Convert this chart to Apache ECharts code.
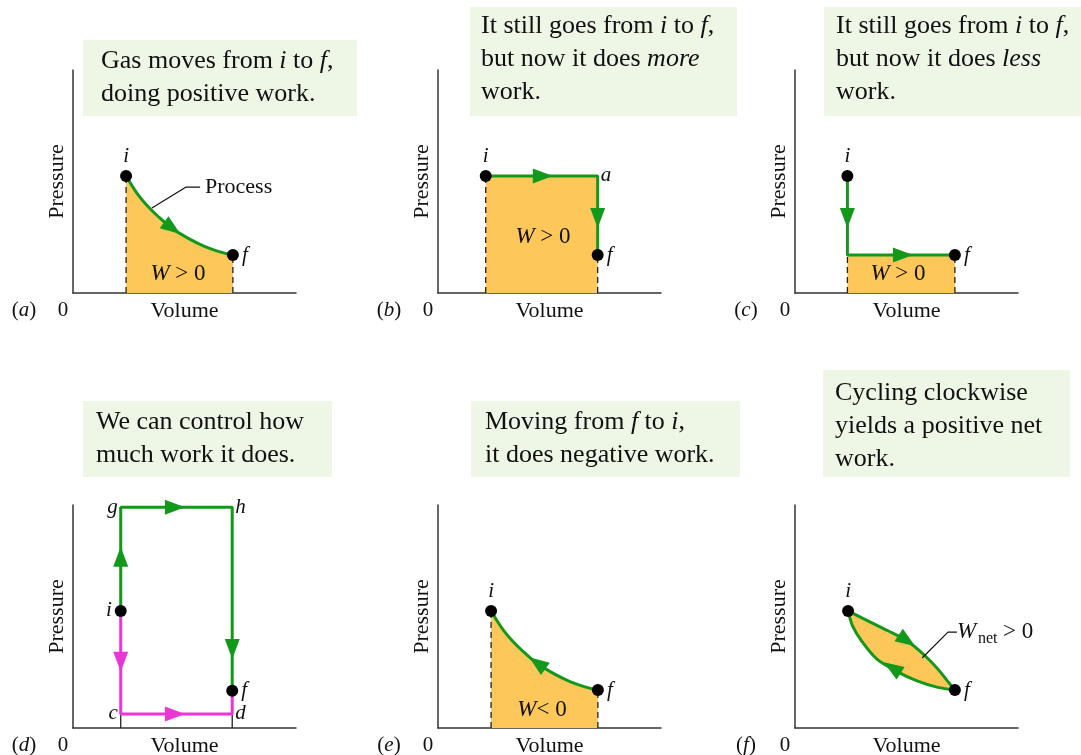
<!DOCTYPE html>
<html>
<head>
<meta charset="utf-8">
<script src="https://cdn.jsdelivr.net/npm/echarts@6/dist/echarts.min.js"></script>
<style>
html, body { margin:0; padding:0; background:#fff; }
#main { width:1081px; height:755px; }
</style>
</head>
<body>
<div id="main"></div>
<script>
// process curve i -> f, used in (a) and (e)
let curveV = [2.38, 2.63, 2.93, 3.30, 3.83, 4.43, 5.17, 5.92, 6.67, 7.17];
let curveP = [5.25, 4.84, 4.39, 3.95, 3.42, 2.90, 2.45, 2.08, 1.82, 1.70];
let endV = [2.38, 7.17];   // i, f
let endP = [5.25, 1.70];
let arrowA = [[4.45, 2.91, -35.8]];   // volume, pressure, heading (deg)
let arrowE = [[4.45, 2.91, 144.2]];

// (b) i -> a -> f
let pathB_V = [2.14, 7.16, 7.16];
let pathB_P = [5.25, 5.25, 1.70];
let arrowsB = [[4.70, 5.25, 0], [7.16, 3.36, -90]];

// (c) i -> corner -> f
let pathC_V = [2.35, 2.35, 7.17];
let pathC_P = [5.25, 1.70, 1.70];
let arrowsC = [[2.35, 3.36, -90], [4.84, 1.70, 0]];

// (d) i -> g -> h -> f  and  i -> c -> d -> f
let greenD_V = [2.14, 2.14, 7.14, 7.14];
let greenD_P = [5.25, 9.90, 9.90, 1.67];
let magentaD_V = [2.14, 2.14, 7.14, 7.14];
let magentaD_P = [5.25, 0.63, 0.63, 1.67];
let arrowsD_green = [[2.14, 7.68, 90], [4.57, 9.90, 0], [7.14, 3.54, -90]];
let arrowsD_magenta = [[2.14, 2.97, -90], [4.57, 0.63, 0]];

// (f) clockwise cycle
let upperV = [2.38, 3.27, 4.17, 5.07, 5.83, 6.41, 6.86, 7.17];
let upperP = [5.25, 4.80, 4.36, 3.88, 3.24, 2.64, 2.08, 1.70];
let lowerV = [2.38, 2.58, 3.00, 3.66, 4.58, 5.50, 6.41, 7.17];
let lowerP = [5.25, 4.58, 3.88, 3.10, 2.53, 2.10, 1.82, 1.70];
let arrowsF = [[5.02, 3.92, -34], [4.36, 2.70, 147]];

// leader lines
let processV = [3.54, 5.07, 5.70];
let processP = [3.81, 4.75, 4.75];
let wnetV = [5.70, 6.86, 7.26];
let wnetP = [3.14, 4.30, 4.30];

let green = '#12981a';
let magenta = '#ec36d4';
let orange = '#fdc759';
let boxFill = '#eef6e6';
let serif = '"Liberation Serif", "Times New Roman", serif';

let gridPos = [[73,70],[438,70],[795,70],[73,505],[438,505],[795,505]];

function pts(xs, ys) { return xs.map((x, i) => [x, ys[i]]); }

function path(g, xs, ys, color, extra) {
    return Object.assign({
        type: 'line', xAxisIndex: g, yAxisIndex: g, data: pts(xs, ys),
        symbol: 'none', lineStyle: { color: color, width: 3 }, z: 5, silent: true
    }, extra || {});
}

function area(g, xs, ys, smooth) {
    return {
        type: 'line', xAxisIndex: g, yAxisIndex: g, data: pts(xs, ys), smooth: smooth || false,
        symbol: 'none', lineStyle: { width: 0 }, areaStyle: { color: orange, opacity: 1 }, z: 2, silent: true
    };
}

function rule(g, x, y, dashed) {
    return {
        type: 'line', xAxisIndex: g, yAxisIndex: g, data: [[x, 0], [x, y]], symbol: 'none', silent: true,
        lineStyle: { color: '#222', width: 1.3, type: dashed ? [6, 4] : 'solid' }, z: 3
    };
}

function arrows(g, list, color) {
    return {
        type: 'scatter', xAxisIndex: g, yAxisIndex: g, silent: true,
        data: list.map(a => ({ value: [a[0], a[1]], symbolRotate: a[2] - 90 })),
        symbol: 'triangle', symbolSize: [15, 20], itemStyle: { color: color, opacity: 1 }, z: 6
    };
}

// names: letters, xs/ys coordinates, pos: label positions, size: dot size (0 = label only)
function marks(g, names, xs, ys, pos, size) {
    return {
        type: 'scatter', xAxisIndex: g, yAxisIndex: g, silent: true,
        symbolSize: size, itemStyle: { color: '#000', opacity: 1 }, z: 7,
        data: names.map((n, i) => ({
            value: [xs[i], ys[i]],
            label: { show: true, position: pos[i], formatter: n, distance: 3 }
        })),
        label: { fontFamily: serif, fontStyle: 'italic', fontSize: 21, color: '#111' }
    };
}

let series = [
    // (a)
    area(0, curveV, curveP, 0.3),
    rule(0, endV[0], endP[0], true), rule(0, endV[1], endP[1], true),
    path(0, curveV, curveP, green, { smooth: 0.3 }),
    arrows(0, arrowA, green),
    path(0, processV, processP, '#111', { lineStyle: { color: '#111', width: 1.2 } }),
    marks(0, ['i', 'f'], endV, endP, ['top', 'right'], 12),
    // (b)
    area(1, pathB_V.slice(0, 2), pathB_P.slice(0, 2)),
    rule(1, pathB_V[0], pathB_P[0], true), rule(1, pathB_V[2], pathB_P[2], true),
    path(1, pathB_V, pathB_P, green),
    arrows(1, arrowsB, green),
    marks(1, ['i', 'f'], [pathB_V[0], pathB_V[2]], [pathB_P[0], pathB_P[2]], ['top', 'right'], 12),
    marks(1, ['a'], [pathB_V[1]], [pathB_P[1]], ['right'], 0),
    // (c)
    area(2, pathC_V.slice(1), pathC_P.slice(1)),
    rule(2, pathC_V[1], pathC_P[1], true), rule(2, pathC_V[2], pathC_P[2], true),
    path(2, pathC_V, pathC_P, green),
    arrows(2, arrowsC, green),
    marks(2, ['i', 'f'], [pathC_V[0], pathC_V[2]], [pathC_P[0], pathC_P[2]], ['top', 'right'], 12),
    // (d)
    rule(3, magentaD_V[1], magentaD_P[1], false), rule(3, magentaD_V[2], magentaD_P[2], false),
    path(3, magentaD_V, magentaD_P, magenta),
    path(3, greenD_V, greenD_P, green),
    arrows(3, arrowsD_green, green),
    arrows(3, arrowsD_magenta, magenta),
    marks(3, ['i', 'f'], [greenD_V[0], greenD_V[3]], [greenD_P[0], greenD_P[3]], ['left', 'right'], 12),
    marks(3, ['g', 'h', 'c', 'd'], [greenD_V[1], greenD_V[2], magentaD_V[1], magentaD_V[2]],
        [greenD_P[1], greenD_P[2], magentaD_P[1], magentaD_P[2]], ['left', 'right', 'left', 'right'], 0),
    // (e)
    area(4, curveV, curveP, 0.3),
    rule(4, endV[0], endP[0], true), rule(4, endV[1], endP[1], true),
    path(4, curveV, curveP, green, { smooth: 0.3 }),
    arrows(4, arrowE, green),
    marks(4, ['i', 'f'], endV, endP, ['top', 'right'], 12),
    // (f)
    {
        type: 'custom', xAxisIndex: 5, yAxisIndex: 5, z: 2, silent: true,
        data: [[0, 0]],
        renderItem: function (params, api) {
            let ring = pts(upperV, upperP).concat(pts(lowerV, lowerP).reverse());
            return { type: 'polygon', shape: { points: ring.map(p => api.coord(p)) }, style: { fill: orange } };
        }
    },
    path(5, upperV, upperP, green, { smooth: 0.3 }),
    path(5, lowerV, lowerP, green, { smooth: 0.3 }),
    arrows(5, arrowsF, green),
    path(5, wnetV, wnetP, '#111', { lineStyle: { color: '#111', width: 1.2 } }),
    marks(5, ['i', 'f'], endV, endP, ['top', 'right'], 12)
];

let axisLine = { lineStyle: { color: '#333', width: 1.5 } };
let xAxes = gridPos.map((p, g) => ({
    gridIndex: g, type: 'value', min: 0, max: 10, name: 'Volume', nameLocation: 'middle', nameGap: 7,
    nameTextStyle: { fontFamily: serif, fontSize: 22, color: '#111', verticalAlign: 'top' },
    axisLine: axisLine, axisTick: { show: false }, axisLabel: { show: false }, splitLine: { show: false }
}));
let yAxes = gridPos.map((p, g) => ({
    gridIndex: g, type: 'value', min: 0, max: 10, name: 'Pressure', nameLocation: 'middle', nameGap: 5,
    nameRotate: 90,
    nameTextStyle: { fontFamily: serif, fontSize: 22, color: '#111' },
    axisLine: axisLine, axisTick: { show: false }, axisLabel: { show: false }, splitLine: { show: false }
}));

// annotation text
let rich = {
    it: { fontFamily: serif, fontStyle: 'italic', fontSize: 26, lineHeight: 33 },
    n: { fontFamily: serif, fontSize: 26, lineHeight: 33 }
};
function box(x, y, w, h) {
    return { type: 'rect', shape: { x: x, y: y, width: w, height: h }, style: { fill: boxFill }, z: -10, silent: true };
}
function caption(x, y, text, lh) {
    return {
        type: 'text', x: x, y: y, z: 10, silent: true,
        style: { text: text, fontFamily: serif, fontSize: 26, lineHeight: lh || 33, fill: '#111', rich: rich, align: 'left', verticalAlign: 'top' }
    };
}
function label(x, y, text, size, align, extra) {
    return {
        type: 'text', x: x, y: y, z: 10, silent: true,
        style: Object.assign({
            text: text, fontFamily: serif, fontSize: size, fill: '#111', align: align || 'center', verticalAlign: 'middle',
            rich: { it: { fontFamily: serif, fontStyle: 'italic', fontSize: size } }
        }, extra || {})
    };
}

let graphics = [
    box(83, 40, 274, 76), box(470, 7, 267, 109), box(824, 7, 257, 109),
    box(83, 401, 249, 76), box(471, 401, 269, 76), box(823, 370, 247, 107),
    caption(101, 45, '{n|Gas moves from }{it|i}{n| to }{it|f}{n|,}\n{n|doing positive work.}'),
    caption(481, 10, '{n|It still goes from }{it|i}{n| to }{it|f}{n|,}\n{n|but now it does }{it|more}\n{n|work.}'),
    caption(836, 10, '{n|It still goes from }{it|i}{n| to }{it|f}{n|,}\n{n|but now it does }{it|less}\n{n|work.}'),
    caption(96, 406, '{n|We can control how}\n{n|much work it does.}'),
    caption(485, 406, '{n|Moving from }{it|f}{n| to }{it|i}{n|,}\n{n|it does negative work.}'),
    caption(835, 377, '{n|Cycling clockwise}\n{n|yields a positive net}\n{n|work.}', 32),
    label(205, 187, 'Process', 22, 'left'),
    label(178, 274, '{it|W} > 0', 23),
    label(543, 237, '{it|W} > 0', 23),
    label(898, 274, '{it|W} > 0', 23),
    label(542, 710, '{it|W}< 0', 23),
    label(957, 632, '{it|W}', 23, 'left'),
    label(978, 639, 'net', 16, 'left'),
    label(1003, 632, '> 0', 23, 'left')
];
let tags = ['a', 'b', 'c', 'd', 'e', 'f'];
gridPos.forEach((p, g) => {
    let y = p[1] + 223 + 17;
    graphics.push(label(p[0] - 49, y, '({it|' + tags[g] + '})', 21));
    graphics.push(label(p[0] - 10, y, '0', 21));
});

let chart = echarts.init(document.getElementById('main'));
chart.setOption({
    animation: false,
    backgroundColor: '#fff',
    grid: gridPos.map(p => ({ left: p[0], top: p[1], width: 223, height: 223, outerBoundsMode: 'none' })),
    xAxis: xAxes,
    yAxis: yAxes,
    series: series,
    graphic: graphics
});
</script>
</body>
</html>
